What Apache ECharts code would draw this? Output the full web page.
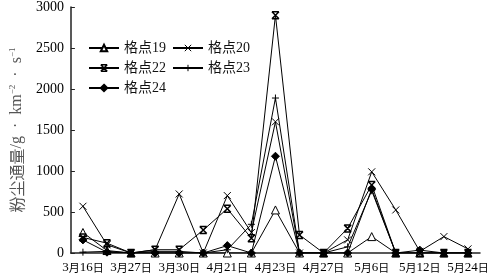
<!DOCTYPE html>
<html><head><meta charset="utf-8">
<script src="https://cdn.jsdelivr.net/npm/echarts@6/dist/echarts.min.js"></script>
<style>html,body{margin:0;padding:0;background:#fff}#c{width:492px;height:279px}</style>
</head><body><div id="c"></div>
<script>
var categories = ['3月16日','3月20日','3月27日','3月28日','3月30日','4月5日','4月21日','4月22日','4月23日','4月25日','4月27日','5月1日','5月6日','5月9日','5月12日','5月18日','5月24日'];
var yTicks = [0, 500, 1000, 1500, 2000, 2500, 3000];
var g19 = [250, 30, 0, 0, 0, 0, 0, 0, 525, 0, 0, 0, 200, 0, 0, 0, 0];
var g20 = [570, 100, 0, 40, 720, 0, 700, 250, 1600, 0, 0, 160, 990, 525, 20, 200, 50];
var g22 = [190, 120, 0, 40, 40, 280, 540, 180, 2900, 220, 0, 300, 830, 0, 0, 0, 0];
var g23 = [10, 20, 0, 20, 20, 0, 40, 350, 1890, 0, 0, 75, 760, 0, 0, 0, 0];
var g24 = [160, 10, 0, 0, 0, 0, 90, 0, 1180, 0, 0, 0, 780, 0, 35, 0, 0];

var FONT = "'Liberation Serif', 'Noto Sans CJK SC', serif";
var CJK = "'Noto Sans CJK SC', sans-serif";
var sym = {
  tri: 'triangle',
  x: 'path://M0,0L10,10M10,0L0,10',
  xb: 'path://M0,0L10,0M0,10L10,10M0,0L10,10M10,0L0,10',
  plus: 'path://M5,0L5,10M0,5L10,5',
  dia: 'diamond'
};
var CLEAR = 'rgba(0,0,0,0)';
function mk(name, data, symbol, size, fill, bw) {
  return {
    name: name, type: 'line', data: data, symbol: symbol, symbolSize: size,
    symbolKeepAspect: true, showAllSymbol: true, animation: false,
    lineStyle: { color: '#000', width: 1 },
    itemStyle: { color: fill, borderColor: '#000', borderWidth: bw }
  };
}
function dateLabel(v) {
  var m = v.match(/^(\d+)月(\d+)日$/);
  if (!m) return v;
  return '{d|' + m[1] + '}{c|月}{d|' + m[2] + '}{c|日}';
}
var chart = echarts.init(document.getElementById('c'), null, { renderer: 'canvas' });
chart.setOption({
  animation: false,
  backgroundColor: '#fff',
  textStyle: { fontFamily: FONT },
  grid: { left: 60, right: 12, top: 7, bottom: 26 },
  legend: {
    left: 83, top: 36, width: 200, itemWidth: 30, itemHeight: 8, itemGap: 6,
    textStyle: { fontFamily: FONT, fontSize: 14, color: '#111', width: 52 },
    data: [
      { name: '格点19' },
      { name: '格点20', itemStyle: { color: CLEAR, borderColor: '#000', borderWidth: 1 } },
      { name: '格点22', itemStyle: { color: CLEAR, borderColor: '#000', borderWidth: 1.5 } },
      { name: '格点23', itemStyle: { color: CLEAR, borderColor: '#000', borderWidth: 1 } },
      { name: '格点24' }
    ]
  },
  xAxis: {
    type: 'category', data: categories, boundaryGap: true,
    axisLine: { lineStyle: { color: '#222', width: 1.5 } },
    axisTick: { inside: true, length: 5, interval: 0, lineStyle: { color: '#222' } },
    axisLabel: { interval: 1, margin: 8, formatter: dateLabel,
      rich: {
        d: { fontFamily: "'Liberation Serif', serif", fontSize: 13, color: '#000' },
        c: { fontFamily: CJK, fontSize: 11, color: '#000' }
      } }
  },
  yAxis: {
    type: 'value', min: 0, max: 3000, interval: 500,
    splitLine: { show: false },
    axisLine: { show: true, lineStyle: { color: '#222', width: 1.5 } },
    axisTick: { show: true, inside: true, length: 4, lineStyle: { color: '#222' } },
    axisLabel: { color: '#000', fontFamily: FONT, fontSize: 14, margin: 7,
      formatter: function (v) { return yTicks.indexOf(v) >= 0 ? String(v) : ''; } },
    name: '{a|粉尘通量}{b|/g  ·  km}{s|−2}{b|  ·  s}{s|−1}',
    nameLocation: 'middle', nameRotate: 90, nameGap: 40,
    nameTextStyle: {
      rich: {
        a: { fontFamily: CJK, fontSize: 16, color: '#555' },
        b: { fontFamily: "'Liberation Serif', serif", fontSize: 16, color: '#555' },
        s: { fontFamily: "'Liberation Serif', serif", fontSize: 9, color: '#555', verticalAlign: 'top', padding: [0, 0, 9, 0] }
      }
    }
  },
  series: [
    mk('格点19', g19, sym.tri, 8, '#fff', 1),
    mk('格点20', g20, sym.x, 7, CLEAR, 1),
    mk('格点22', g22, sym.xb, 7, CLEAR, 1.5),
    mk('格点23', g23, sym.plus, 7, CLEAR, 1),
    mk('格点24', g24, sym.dia, 8, '#000', 1)
  ]
});
</script></body></html>
